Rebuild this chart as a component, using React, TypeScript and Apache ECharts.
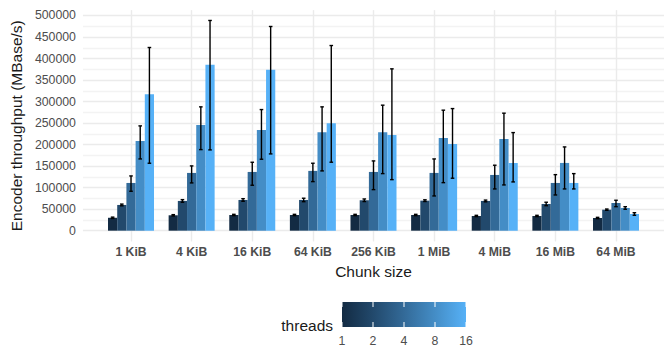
import React, { useEffect, useRef } from "react";
import * as echarts from "echarts";

const categories = ["1 KiB", "4 KiB", "16 KiB", "64 KiB", "256 KiB", "1 MiB", "4 MiB", "16 MiB", "64 MiB"];
const threadLabels = ["1", "2", "4", "8", "16"];
const threadColors = ["#132B43", "#22496C", "#336A98", "#448DC6", "#56B1F7"];

const t1 = [30000, 35800, 36500, 36500, 36500, 36500, 34200, 34200, 29500];
const t1lo = [28500, 34300, 35000, 35000, 35000, 35000, 32700, 32700, 28000];
const t1hi = [31500, 37300, 38000, 38000, 38000, 38000, 35700, 35700, 31000];

const t2 = [59800, 69100, 71400, 71400, 70700, 69800, 69100, 62100, 48800];
const t2lo = [57800, 66100, 68400, 67400, 67700, 67800, 67100, 58100, 47300];
const t2hi = [61800, 72100, 74400, 75400, 73700, 71800, 71100, 66100, 50300];

const t4 = [110900, 134200, 136500, 138900, 136500, 134200, 129500, 110900, 64400];
const t4lo = [91600, 111000, 105600, 114000, 95400, 80700, 97000, 83000, 55800];
const t4hi = [127200, 150500, 159000, 156700, 162100, 166700, 152100, 130200, 70700];

const t8 = [208600, 245800, 234200, 228800, 228800, 215600, 213300, 157400, 52800];
const t8lo = [166700, 188400, 166000, 138900, 132600, 111600, 106300, 97000, 49800];
const t8hi = [243500, 287700, 281400, 287700, 291600, 280000, 273000, 194600, 55800];

const t16 = [317200, 385300, 373700, 249800, 222600, 201600, 157400, 110900, 38800];
const t16lo = [156700, 187700, 178400, 159100, 118600, 121900, 113300, 97000, 35800];
const t16hi = [425600, 488400, 474400, 430200, 376000, 283700, 227900, 132600, 41800];

const means = [t1, t2, t4, t8, t16];
const lows = [t1lo, t2lo, t4lo, t8lo, t16lo];
const highs = [t1hi, t2hi, t4hi, t8hi, t16hi];

const FONT = "Liberation Sans, Arial, Helvetica, sans-serif";
const BAR_W = 9.2;
const TOP = 10.1;
const BOTTOM = 349 - 241.45;
const YMIN = -25000;
const YMAX = 512500;

export default function App() {
  const ref = useRef<HTMLDivElement>(null);
  useEffect(() => {
    if (!ref.current) return;
    const chart = echarts.init(ref.current, null, { renderer: "svg" });

    const errData: any[] = [];
    lows.forEach((lo, s) => {
      lo.forEach((v, i) => errData.push([i, v, highs[s][i], s]));
    });

    const barSeries = means.map((arr, s) => ({
      type: "bar",
      name: threadLabels[s],
      xAxisIndex: 1,
      yAxisIndex: 1,
      data: arr,
      barWidth: BAR_W,
      barGap: "0%",
      itemStyle: { color: threadColors[s] },
      z: 3,
    }));

    // legend colorbar
    const cbX = 342, cbY = 302, cbW = 124, cbH = 25;
    const step = cbW / (threadLabels.length - 1);
    const legendEls: any[] = [
      {
        type: "rect",
        shape: { x: cbX, y: cbY, width: cbW, height: cbH },
        style: {
          fill: new echarts.graphic.LinearGradient(
            0, 0, 1, 0,
            threadColors.map((c, i) => ({ offset: i / (threadColors.length - 1), color: c }))
          ),
        },
      },
      {
        type: "text",
        x: 333,
        y: 325,
        style: { text: "threads", font: `15.5px ${FONT}`, fill: "#1A1A1A", align: "right", verticalAlign: "middle" },
      },
    ];
    threadLabels.forEach((lab, i) => {
      const x = cbX + i * step;
      legendEls.push({
        type: "line",
        shape: { x1: x, y1: cbY, x2: x, y2: cbY + 5 },
        style: { stroke: "#FFFFFF", lineWidth: 1 },
      });
      legendEls.push({
        type: "line",
        shape: { x1: x, y1: cbY + cbH - 5, x2: x, y2: cbY + cbH },
        style: { stroke: "#FFFFFF", lineWidth: 1 },
      });
      legendEls.push({
        type: "text",
        x,
        y: 341,
        style: { text: lab, font: `12.3px ${FONT}`, fill: "#4D4D4D", align: "center", verticalAlign: "middle" },
      });
    });

    chart.setOption({
      animation: false,
      backgroundColor: "#FFFFFF",
      textStyle: { fontFamily: FONT },
      grid: [
        { left: 80, right: 0, top: TOP, bottom: BOTTOM },
        { left: 100.7, right: 664 - 646.3, top: TOP, bottom: BOTTOM },
      ],
      xAxis: [
        { type: "value", gridIndex: 0, show: false, min: 0, max: 1 },
        {
          type: "category",
          gridIndex: 1,
          data: categories,
          axisLine: { show: false },
          axisTick: { show: false },
          axisLabel: { interval: 0, margin: 5, color: "#4D4D4D", fontSize: 12.2, fontWeight: "bold", fontFamily: FONT },
          splitLine: { show: true, interval: 0, alignWithLabel: true, lineStyle: { color: "#EBEBEB", width: 1.4 } },
          name: "Chunk size",
          nameLocation: "middle",
          nameGap: 21,
          nameTextStyle: { fontSize: 15.5, color: "#1A1A1A", fontFamily: FONT },
        },
      ],
      yAxis: [
        {
          type: "value",
          gridIndex: 0,
          min: YMIN,
          max: YMAX,
          interval: 25000,
          axisLine: { show: false },
          axisTick: { show: false },
          axisLabel: {
            margin: 7,
            color: "#4D4D4D",
            fontSize: 12.3,
            fontFamily: FONT,
            showMinLabel: false,
            showMaxLabel: false,
            formatter: (v: number) => (v >= 0 && v % 50000 === 0 && v <= 500000 ? String(v) : ""),
          },
          splitLine: {
            show: true,
            showMinLine: false,
            showMaxLine: false,
            lineStyle: { color: ["#EBEBEB", "#F3F3F3"], width: 1.3 },
          },
          name: "Encoder throughput (MBase/s)",
          nameLocation: "middle",
          nameGap: 54,
          nameTextStyle: { fontSize: 15.5, color: "#1A1A1A", fontFamily: FONT },
        },
        { type: "value", gridIndex: 1, min: YMIN, max: YMAX, interval: 25000, show: false, splitLine: { show: false } },
      ],
      series: [
        ...barSeries,
        {
          type: "custom",
          xAxisIndex: 1,
          yAxisIndex: 1,
          z: 5,
          data: errData,
          renderItem: (params: any, api: any) => {
            const ci = api.value(0);
            const lo = api.coord([ci, api.value(1)]);
            const hi = api.coord([ci, api.value(2)]);
            const off = (api.value(3) - 2) * BAR_W;
            const x = lo[0] + off;
            const cap = 1.8;
            const style = { stroke: "#000000", lineWidth: 1.4 };
            return {
              type: "group",
              children: [
                { type: "line", shape: { x1: x, y1: lo[1], x2: x, y2: hi[1] }, style },
                { type: "line", shape: { x1: x - cap, y1: lo[1], x2: x + cap, y2: lo[1] }, style },
                { type: "line", shape: { x1: x - cap, y1: hi[1], x2: x + cap, y2: hi[1] }, style },
              ],
            };
          },
        },
      ],
      graphic: legendEls,
    });
    return () => chart.dispose();
  }, []);
  return <div ref={ref} style={{ position: "fixed", left: 0, top: 0, width: 664, height: 349 }} />;
}
